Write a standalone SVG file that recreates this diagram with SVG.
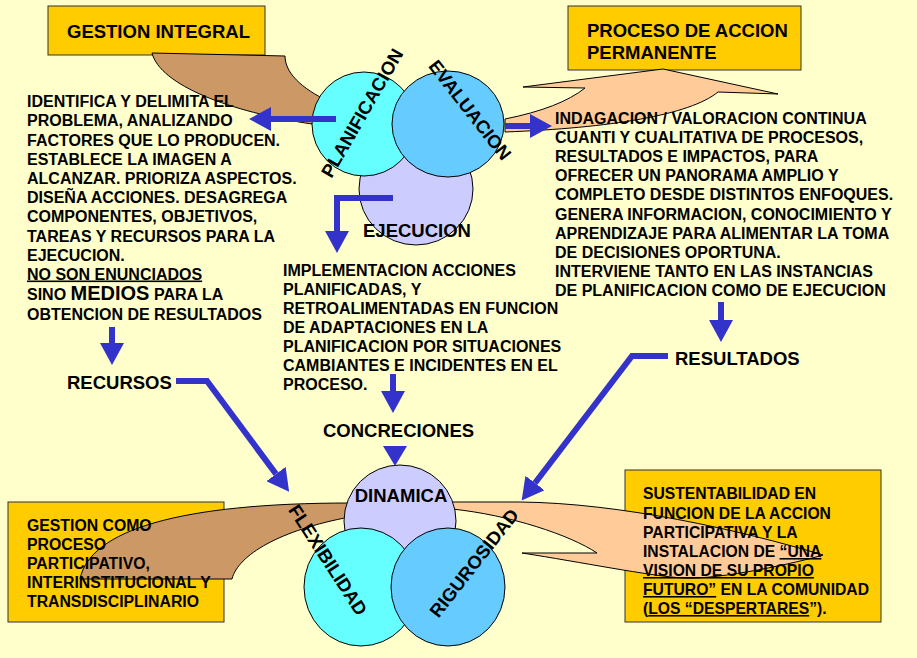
<svg xmlns="http://www.w3.org/2000/svg" width="917" height="658" viewBox="0 0 917 658">
<defs>
<style>
text{font-family:"Liberation Sans",Arial,sans-serif;font-weight:bold;fill:#000}
.p{font-size:16px}
.bl{font-size:15.8px}
.br{font-size:15.7px}
.lbl{font-size:18.5px}
.box{fill:#FFCC00;stroke:#333;stroke-width:1}
.brown{fill:#CC9966;stroke:#000;stroke-width:1}
.peach{fill:#FFCC99;stroke:#000;stroke-width:1}
.c1{fill:#66FFFF;stroke:#000;stroke-width:1}
.c2{fill:#66CCFF;stroke:#000;stroke-width:1}
.c3{fill:#CCCCFF;stroke:#000;stroke-width:1}
.conn{fill:none;stroke:#3333CC;stroke-width:6;stroke-linejoin:miter}
.u{text-decoration:underline}
</style>
<marker id="ah" markerUnits="userSpaceOnUse" markerWidth="22" markerHeight="24" viewBox="0 0 22 24" refX="0" refY="12" orient="auto"><path d="M0,0 L22,12 L0,24 Z" fill="#3333CC"/></marker>
</defs>
<rect x="0" y="0" width="917" height="658" fill="#FFFFCC"/>

<g id="box-gestion-integral">
<rect class="box" x="48" y="6" width="217" height="49"/>
</g>
<g id="box-proceso">
<rect class="box" x="568" y="6" width="233" height="64"/>
</g>
<g id="box-gestion-como">
<rect class="box" x="8" y="502" width="216" height="120"/>
</g>
<g id="box-sustentabilidad">
<rect class="box" x="625" y="470" width="256" height="152"/>
</g>

<g id="curved-shapes">
<path class="brown" d="M152,53 L285,56 C285,72 300,88 330,102 L345,122 L312,124 C230,112 160,85 152,53 Z"/>
<path class="peach" d="M505,119 Q560,108 585,88 L523,87 L663,69 L778,94 L718,92 C690,115 610,128 505,132 Z"/>
<path class="brown" d="M350,503 C180,503 90,530 80,579 L232,579 C238,555 280,530 350,517 Z"/>
<path class="peach" d="M452,502 L520,502 C620,503 740,530 823,555 C800,562 720,580 683,578 C650,576 580,562 522,553 L597,553 C570,535 510,515 452,509 Z"/>
</g>

<g id="node-ejecucion"><ellipse class="c3" cx="416" cy="189" rx="57" ry="56"/></g>
<g id="node-planificacion"><ellipse class="c1" cx="364" cy="124" rx="52" ry="52"/></g>
<g id="node-evaluacion"><ellipse class="c2" cx="448" cy="124" rx="56" ry="53"/></g>

<g id="node-dinamica"><ellipse class="c3" cx="400" cy="521" rx="56" ry="56"/></g>
<g id="node-flexibilidad"><ellipse class="c1" cx="361" cy="587" rx="57" ry="59"/></g>
<g id="node-rigurosidad"><ellipse class="c2" cx="448" cy="587" rx="57" ry="59"/></g>

<g id="connectors">
<path class="conn" d="M336,119 H271" marker-end="url(#ah)"/>
<path class="conn" d="M505,126 H530" marker-end="url(#ah)"/>
<path class="conn" d="M393,198 H337 V231" marker-end="url(#ah)"/>
<path class="conn" d="M112,327 V343" marker-end="url(#ah)"/>
<path class="conn" d="M393,374 V391" marker-end="url(#ah)"/>
<path class="conn" d="M721,302 V320" marker-end="url(#ah)"/>
<polygon points="383,446 407,446 395,466" fill="#3333CC"/>
<path class="conn" d="M176,381 H207 L276,474" marker-end="url(#ah)"/>
<path class="conn" d="M668,356 H632 L535,483" marker-end="url(#ah)"/>
</g>

<g id="labels">
<text class="lbl" x="67" y="38">GESTION INTEGRAL</text>
<text class="lbl" x="587" y="37">PROCESO DE ACCION</text>
<text class="lbl" x="587" y="59">PERMANENTE</text>

<text class="lbl" transform="translate(362,113) rotate(-60)" text-anchor="middle" y="6.5">PLANIFICACION</text>
<text class="lbl" transform="translate(470,110) rotate(52)" text-anchor="middle" y="6.5">EVALUACION</text>
<text class="lbl" x="417" y="237" text-anchor="middle">EJECUCION</text>

<text class="p" x="27" y="107">IDENTIFICA Y DELIMITA EL</text>
<text class="p" x="27" y="126">PROBLEMA, ANALIZANDO</text>
<text class="p" x="27" y="145.5">FACTORES QUE LO PRODUCEN.</text>
<text class="p" x="27" y="164.5">ESTABLECE LA IMAGEN A</text>
<text class="p" x="27" y="184">ALCANZAR. PRIORIZA ASPECTOS.</text>
<text class="p" x="27" y="203">DISEÑA ACCIONES. DESAGREGA</text>
<text class="p" x="27" y="222">COMPONENTES, OBJETIVOS,</text>
<text class="p" x="27" y="241.5">TAREAS Y RECURSOS PARA LA</text>
<text class="p" x="27" y="260.5">EJECUCION.</text>
<text class="p u" x="27" y="279.5">NO SON ENUNCIADOS</text>
<text class="p" x="27" y="300">SINO <tspan font-size="20px">MEDIOS</tspan> PARA LA</text>
<text class="p" x="27" y="320">OBTENCION DE RESULTADOS</text>

<text class="p" x="555" y="123.5">INDAGACION / VALORACION CONTINUA</text>
<text class="p" x="555" y="142.7">CUANTI Y CUALITATIVA DE PROCESOS,</text>
<text class="p" x="555" y="161.9">RESULTADOS E IMPACTOS, PARA</text>
<text class="p" x="555" y="181.1">OFRECER UN PANORAMA AMPLIO Y</text>
<text class="p" x="555" y="200.3">COMPLETO DESDE DISTINTOS ENFOQUES.</text>
<text class="p" x="555" y="219.5">GENERA INFORMACION, CONOCIMIENTO Y</text>
<text class="p" x="555" y="238.7">APRENDIZAJE PARA ALIMENTAR LA TOMA</text>
<text class="p" x="555" y="257.9">DE DECISIONES OPORTUNA.</text>
<text class="p" x="555" y="277.1">INTERVIENE TANTO EN LAS INSTANCIAS</text>
<text class="p" x="555" y="296.3">DE PLANIFICACION COMO DE EJECUCION</text>

<text class="p" x="283" y="276">IMPLEMENTACION ACCIONES</text>
<text class="p" x="283" y="295">PLANIFICADAS, Y</text>
<text class="p" x="283" y="314">RETROALIMENTADAS EN FUNCION</text>
<text class="p" x="283" y="333">DE ADAPTACIONES EN LA</text>
<text class="p" x="283" y="352">PLANIFICACION POR SITUACIONES</text>
<text class="p" x="283" y="371">CAMBIANTES E INCIDENTES EN EL</text>
<text class="p" x="283" y="390">PROCESO.</text>

<text class="lbl" x="67" y="389">RECURSOS</text>
<text class="lbl" x="675" y="365">RESULTADOS</text>
<text class="lbl" x="323" y="437">CONCRECIONES</text>
<text class="lbl" x="401" y="502" text-anchor="middle">DINAMICA</text>
<text class="lbl" transform="translate(328,560) rotate(57)" text-anchor="middle" y="6.5">FLEXIBILIDAD</text>
<text class="lbl" transform="translate(474,563) rotate(-52)" text-anchor="middle" y="6.5">RIGUROSIDAD</text>

<text class="bl" x="27" y="531">GESTION COMO</text>
<text class="bl" x="27" y="550">PROCESO</text>
<text class="bl" x="27" y="569">PARTICIPATIVO,</text>
<text class="bl" x="27" y="588">INTERINSTITUCIONAL Y</text>
<text class="bl" x="27" y="607">TRANSDISCIPLINARIO</text>

<text class="br" x="643" y="499">SUSTENTABILIDAD EN</text>
<text class="br" x="643" y="518.5">FUNCION DE LA ACCION</text>
<text class="br" x="643" y="537.5">PARTICIPATIVA Y LA</text>
<text class="br" x="643" y="557">INSTALACION DE <tspan class="u">“UNA</tspan></text>
<text class="br u" x="643" y="576">VISION DE SU PROPIO</text>
<text class="br" x="643" y="595"><tspan class="u">FUTURO”</tspan> EN LA COMUNIDAD</text>
<text class="br" x="643" y="614">(<tspan class="u">LOS “DESPERTARES</tspan>”).</text>
</g>
</svg>
